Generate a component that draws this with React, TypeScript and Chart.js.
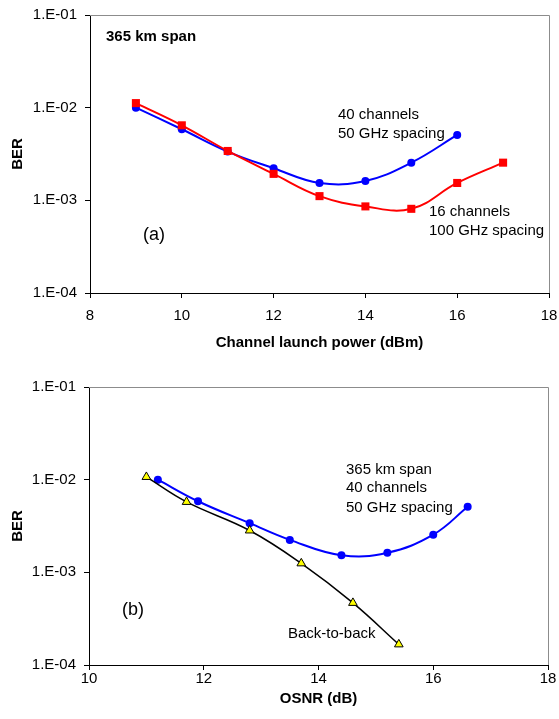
import React, { useEffect, useRef } from "react";
import { Chart, registerables } from "chart.js";

Chart.register(...registerables);

// ---------- data ----------
const berTicks = [1e-4, 1e-3, 1e-2, 1e-1];

// (a) BER vs channel launch power
const powerA40 = [9, 10, 11, 12, 13, 14, 15, 16];
const ber40chA = [1.0e-2, 5.85e-3, 3.36e-3, 2.22e-3, 1.54e-3, 1.62e-3, 2.55e-3, 5.08e-3];
const powerA16 = [9, 10, 11, 12, 13, 14, 15, 16, 17];
const ber16chA = [1.12e-2, 6.45e-3, 3.41e-3, 1.93e-3, 1.11e-3, 8.6e-4, 8.1e-4, 1.54e-3, 2.55e-3];

// (b) BER vs OSNR
const osnr40ch = [11.2, 11.9, 12.8, 13.5, 14.4, 15.2, 16.0, 16.6];
const ber40chB = [1.0e-2, 5.85e-3, 3.39e-3, 2.24e-3, 1.53e-3, 1.63e-3, 2.55e-3, 5.1e-3];
const osnrB2B = [11.0, 11.7, 12.8, 13.7, 14.6, 15.4];
const berB2B = [1.07e-2, 5.75e-3, 2.83e-3, 1.25e-3, 4.68e-4, 1.67e-4];

const labelsTop = [
  { text: "365 km span", x: 106, y: 41, bold: true, size: 15 },
  { text: "(a)", x: 143, y: 239.5, bold: false, size: 18 },
  { text: "40 channels", x: 338, y: 119, bold: false, size: 15 },
  { text: "50 GHz spacing", x: 338, y: 137.5, bold: false, size: 15 },
  { text: "16 channels", x: 429, y: 216, bold: false, size: 15 },
  { text: "100 GHz spacing", x: 429, y: 234.5, bold: false, size: 15 },
];
const labelsBottom = [
  { text: "365 km span", x: 346, y: 116.5, bold: false, size: 15 },
  { text: "40 channels", x: 346, y: 135.3, bold: false, size: 15 },
  { text: "50 GHz spacing", x: 346, y: 154.7, bold: false, size: 15 },
  { text: "(b)", x: 122, y: 258, bold: false, size: 18 },
  { text: "Back-to-back", x: 288, y: 281.3, bold: false, size: 15 },
];

const FONT = "'Liberation Sans', Arial, Helvetica, sans-serif";

const zip = (xs: number[], ys: number[]) => xs.map((x, i) => ({ x, y: ys[i] }));

const annotPlugin = {
  id: "annot",
  afterDraw(chart: any, _args: any, opts: any) {
    const ctx = chart.ctx;
    ctx.save();
    ctx.fillStyle = "#000";
    ctx.textBaseline = "alphabetic";
    ctx.textAlign = "left";
    for (const it of opts.items || []) {
      ctx.font = `${it.bold ? "bold " : ""}${it.size}px ${FONT}`;
      ctx.fillText(it.text, it.x, it.y);
    }
    ctx.restore();
  },
};

const framePlugin = {
  id: "frame",
  beforeDatasetsDraw(chart: any) {
    const { ctx, chartArea } = chart;
    ctx.save();
    ctx.strokeStyle = "#8c8c8c";
    ctx.lineWidth = 1;
    ctx.beginPath();
    ctx.moveTo(chartArea.left, Math.round(chartArea.top) + 0.5);
    ctx.lineTo(Math.round(chartArea.right) + 0.5, Math.round(chartArea.top) + 0.5);
    ctx.lineTo(Math.round(chartArea.right) + 0.5, chartArea.bottom);
    ctx.stroke();
    ctx.restore();
  },
};

function makeOptions(cfg: any) {
  return {
    responsive: false,
    animation: false,
    devicePixelRatio: 1,
    layout: { padding: { left: 0, right: cfg.padRight, top: cfg.padTop, bottom: 0 } },
    plugins: {
      legend: { display: false },
      tooltip: { enabled: false },
      annot: { items: cfg.labels },
    },
    scales: {
      x: {
        type: "linear",
        min: cfg.xMin,
        max: cfg.xMax,
        ticks: {
          stepSize: 2,
          color: "#000",
          font: { family: FONT, size: 15 },
          padding: cfg.xTickPad,
          maxRotation: 0,
        },
        grid: { drawOnChartArea: false, drawTicks: true, tickLength: 5, color: "#000" },
        border: { color: "#000", width: 1 },
        title: {
          display: true,
          text: cfg.xTitle,
          color: "#000",
          font: { family: FONT, size: 15, weight: "bold" },
          padding: { top: 0, bottom: cfg.xTitlePad },
        },
        afterFit: (s: any) => {
          s.height = cfg.xHeight;
          s.paddingLeft = 0;
          s.paddingRight = 0;
        },
      },
      y: {
        type: "logarithmic",
        min: 1e-4,
        max: 1e-1,
        afterBuildTicks: (s: any) => {
          s.ticks = berTicks.map((v) => ({ value: v }));
        },
        ticks: {
          color: "#000",
          font: { family: FONT, size: 15 },
          padding: 8,
          callback: (v: any) => {
            const e = Math.round(-Math.log10(Number(v)));
            return `1.E-${e < 10 ? "0" + e : e}`;
          },
        },
        grid: { drawOnChartArea: false, drawTicks: true, tickLength: 5, color: "#000" },
        border: { color: "#000", width: 1 },
        title: {
          display: true,
          text: "BER",
          color: "#000",
          font: { family: FONT, size: 15, weight: "bold" },
          padding: { top: 9, bottom: 0 },
        },
        afterFit: (s: any) => {
          s.width = cfg.yWidth;
          s.paddingTop = 0;
          s.paddingBottom = 0;
        },
      },
    },
  };
}

function useChart(ref: any, config: any) {
  useEffect(() => {
    if (!ref.current) return;
    const chart = new Chart(ref.current, config);
    return () => chart.destroy();
  }, []);
}

export default function App() {
  const topRef = useRef<HTMLCanvasElement>(null);
  const botRef = useRef<HTMLCanvasElement>(null);

  useChart(topRef, {
    type: "line",
    data: {
      datasets: [
        {
          data: zip(powerA16, ber16chA),
          borderColor: "#ff0000",
          backgroundColor: "#ff0000",
          borderWidth: 2,
          tension: 0.4,
          pointStyle: "rect",
          pointRadius: 5.7,
          pointBorderWidth: 0,
          pointBackgroundColor: "#ff0000",
        },
        {
          data: zip(powerA40, ber40chA),
          borderColor: "#0000ff",
          backgroundColor: "#0000ff",
          borderWidth: 2,
          tension: 0.4,
          pointStyle: "circle",
          pointRadius: 4,
          pointBorderWidth: 0,
          pointBackgroundColor: "#0000ff",
        },
      ],
    },
    options: makeOptions({
      padRight: 10,
      padTop: 15,
      xMin: 8,
      xMax: 18,
      xTickPad: 9,
      xTitle: "Channel launch power (dBm)",
      xTitlePad: 5,
      xHeight: 64,
      yWidth: 90,
      labels: labelsTop,
    }),
    plugins: [framePlugin, annotPlugin],
  });

  useChart(botRef, {
    type: "line",
    data: {
      datasets: [
        {
          data: zip(osnrB2B, berB2B),
          borderColor: "#000000",
          backgroundColor: "#ffff00",
          borderWidth: 1.5,
          tension: 0.4,
          pointStyle: "triangle",
          pointRadius: 5,
          pointBorderWidth: 1,
          pointBorderColor: "#000000",
          pointBackgroundColor: "#ffff00",
        },
        {
          data: zip(osnr40ch, ber40chB),
          borderColor: "#0000ff",
          backgroundColor: "#0000ff",
          borderWidth: 2,
          tension: 0.4,
          pointStyle: "circle",
          pointRadius: 4,
          pointBorderWidth: 0,
          pointBackgroundColor: "#0000ff",
        },
      ],
    },
    options: makeOptions({
      padRight: 11,
      padTop: 30,
      xMin: 10,
      xMax: 18,
      xTickPad: 0,
      xTitle: "OSNR (dB)",
      xTitlePad: 11,
      xHeight: 54,
      yWidth: 89,
      labels: labelsBottom,
    }),
    plugins: [framePlugin, annotPlugin],
  });

  return (
    <div style={{ position: "absolute", left: 0, top: 0, width: 559, height: 719, background: "#fff" }}>
      <canvas
        ref={topRef}
        width={559}
        height={357}
        style={{ position: "absolute", left: 0, top: 0, width: 559, height: 357 }}
      />
      <canvas
        ref={botRef}
        width={559}
        height={362}
        style={{ position: "absolute", left: 0, top: 357, width: 559, height: 362 }}
      />
    </div>
  );
}
